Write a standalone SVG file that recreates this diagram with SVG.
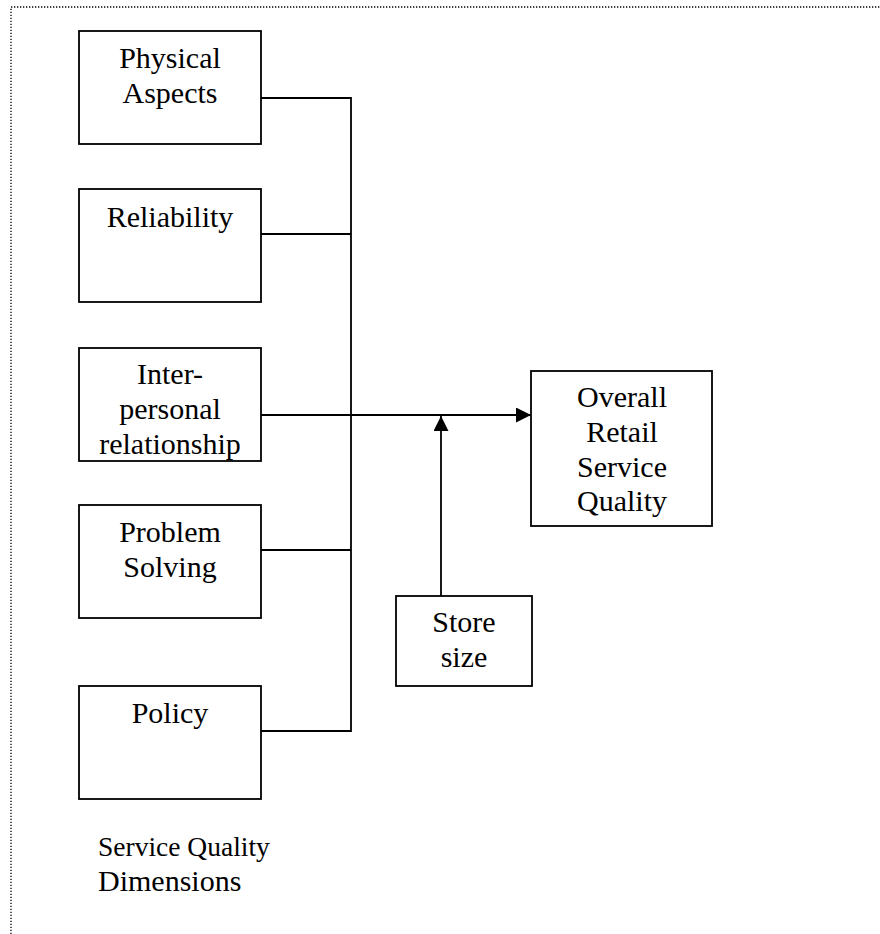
<svg xmlns="http://www.w3.org/2000/svg" width="880" height="934" viewBox="0 0 880 934">
<style>
.box{fill:#fff;stroke:#000;stroke-width:1.8}
.ln{fill:none;stroke:#000;stroke-width:1.8}
text{font-family:"Liberation Serif","Times New Roman",serif;font-size:30px;fill:#000}
.c{text-anchor:middle}
</style>
<defs>
<marker id="ah" markerWidth="15" markerHeight="15" refX="15" refY="7.5" orient="auto" markerUnits="userSpaceOnUse">
<path d="M0,0 L15,7.5 L0,15 Z" fill="#000"/>
</marker>
</defs>
<rect x="11" y="7" width="900" height="960" fill="none" stroke="#000" stroke-width="1.3" stroke-dasharray="1.3,1.7"/>
<g id="connectors">
<path class="ln" d="M261,98 H351 V731 H261"/>
<path class="ln" d="M261,234 H351"/>
<path class="ln" d="M261,550 H351"/>
<path class="ln" d="M261,415 H531" marker-end="url(#ah)"/>
<path class="ln" d="M441,596 V416" marker-end="url(#ah)"/>
</g>
<g id="physical"><rect class="box" x="79" y="31" width="182" height="113"/><text class="c" x="170" y="68">Physical</text><text class="c" x="170" y="103">Aspects</text></g>
<g id="reliability"><rect class="box" x="79" y="189" width="182" height="113"/><text class="c" x="170" y="227">Reliability</text></g>
<g id="interpersonal"><rect class="box" x="79" y="348" width="182" height="113"/><text class="c" x="170" y="384">Inter-</text><text class="c" x="170" y="419">personal</text><text class="c" x="170" y="454">relationship</text></g>
<g id="problem"><rect class="box" x="79" y="505" width="182" height="113"/><text class="c" x="170" y="542">Problem</text><text class="c" x="170" y="577">Solving</text></g>
<g id="policy"><rect class="box" x="79" y="686" width="182" height="113"/><text class="c" x="170" y="723">Policy</text></g>
<g id="overall"><rect class="box" x="531" y="371" width="181" height="155"/><text class="c" x="622" y="407">Overall</text><text class="c" x="622" y="442">Retail</text><text class="c" x="622" y="477">Service</text><text class="c" x="622" y="511">Quality</text></g>
<g id="storesize"><rect class="box" x="396" y="596" width="136" height="90"/><text class="c" x="464" y="632">Store</text><text class="c" x="464" y="667">size</text></g>
<g id="label"><text x="98" y="856" style="font-size:27.5px">Service Quality</text><text x="98" y="891">Dimensions</text></g>
</svg>
